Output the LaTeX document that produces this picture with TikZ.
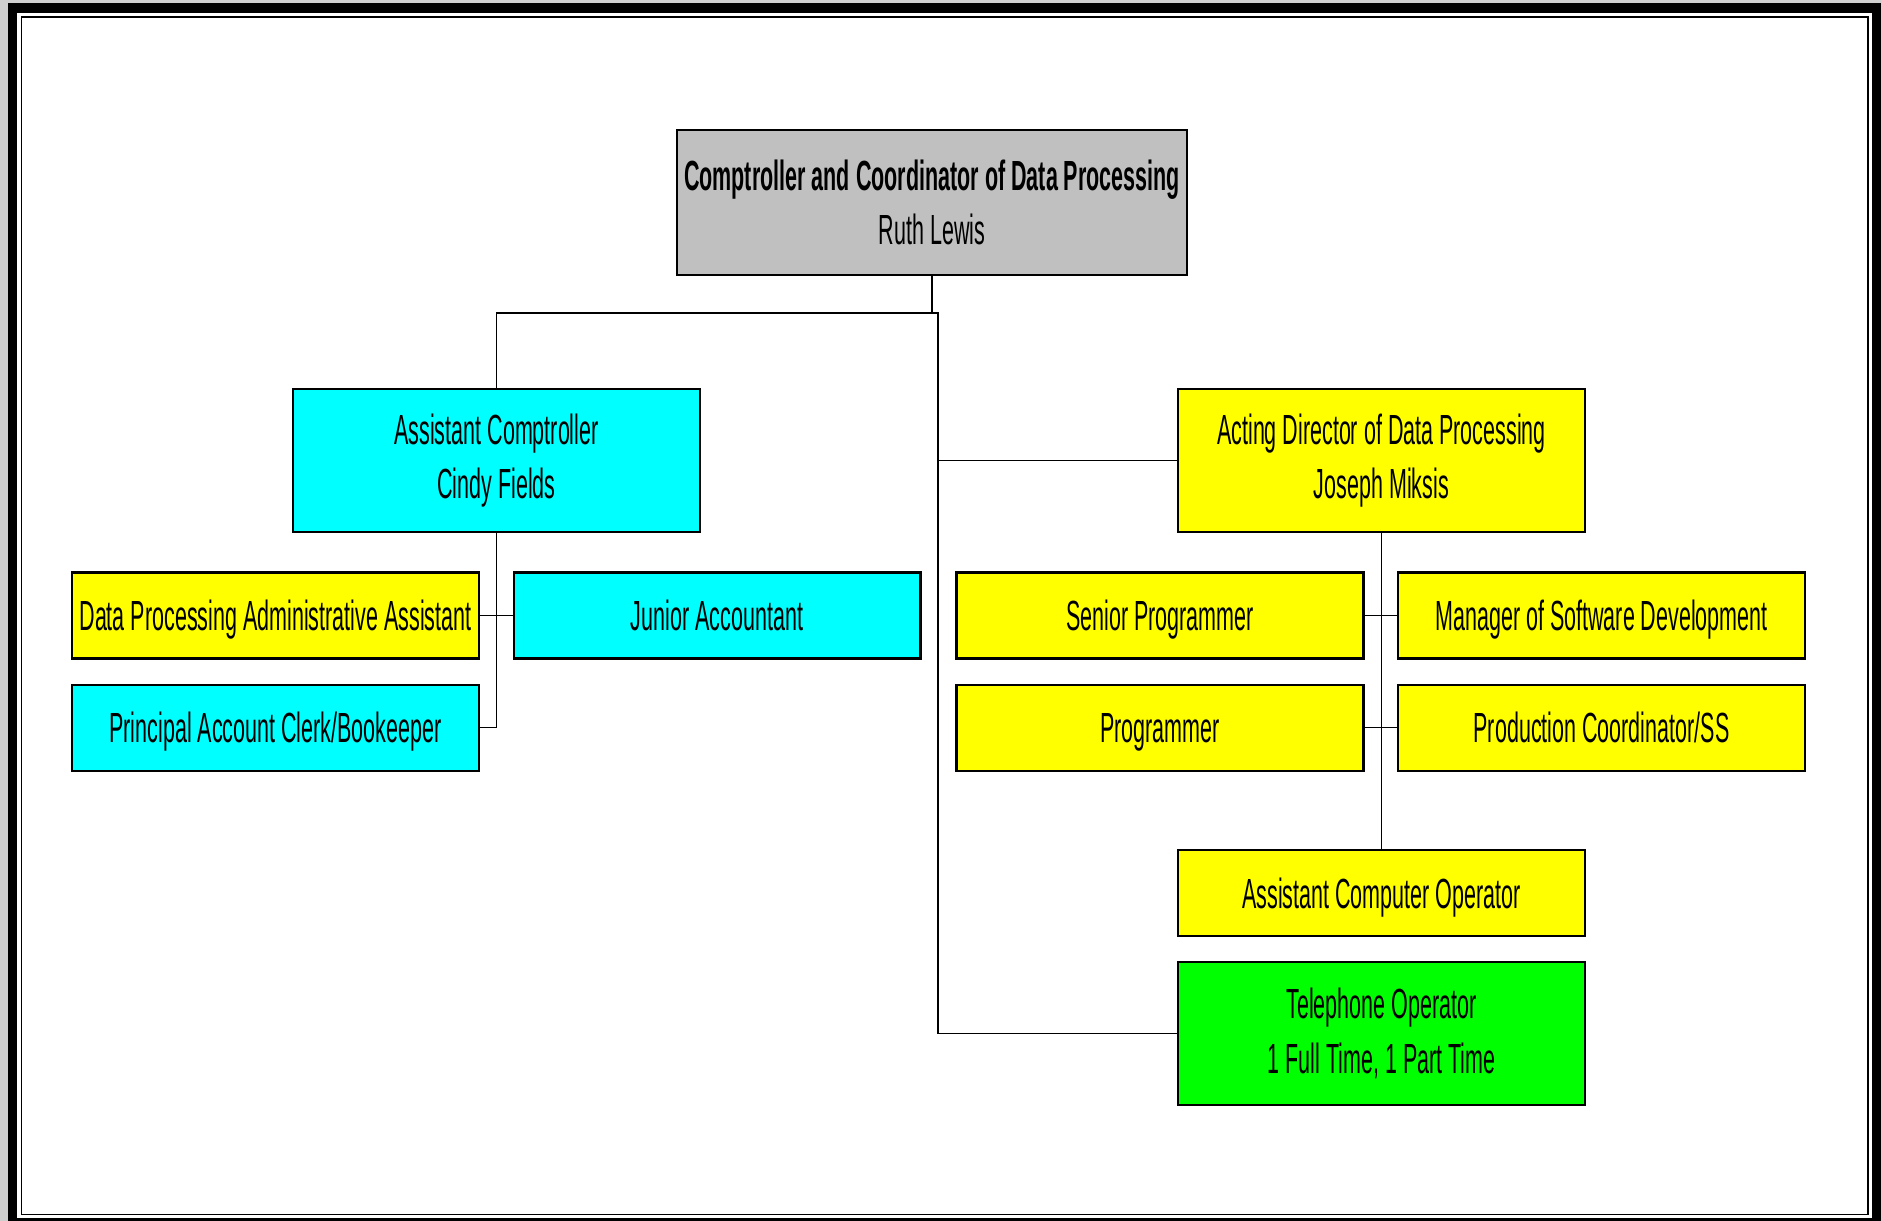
\documentclass[tikz,border=0pt]{standalone}
\usepackage{fontspec}
\setmainfont{Liberation Sans}[FakeStretch=0.51]
\usetikzlibrary{positioning}

\definecolor{greybox}{HTML}{C0C0C0}
\definecolor{cyanbox}{HTML}{00FFFF}
\definecolor{yellowbox}{HTML}{FFFF00}
\definecolor{greenbox}{HTML}{00FF00}

\tikzset{
  box/.style={draw, line width=1.2pt, inner xsep=2pt, minimum width=8.14cm, align=center, font=\fontsize{24}{31}\selectfont},
  smallbox/.style={box, minimum height=1.72cm, text height=17.2pt, text depth=0pt},
  bigbox/.style={box, minimum height=2.86cm},
  link/.style={line width=1pt}
}

\begin{document}
\begin{tikzpicture}[x=0.02cm, y=-0.02cm]

\useasboundingbox (0,0) rectangle (1881,1221);

% frame
\fill[black!19] (0,0) rectangle (1881,1221);
\fill[black] (8,3) rectangle (1881,1221);
\fill[white] (17,12.5) rectangle (1872,1218);
\draw[line width=0.8pt] (21.5,17) rectangle (1868,1214.5);

\node[box, fill=greybox, minimum width=10.2cm, minimum height=2.9cm] (top) at (932,202.5) {\textbf{Comptroller and Coordinator of Data Processing}\\Ruth Lewis};

\node[bigbox, fill=cyanbox] (asst) at (496.5,460.5) {Assistant Comptroller\\Cindy Fields};
\node[bigbox, fill=yellowbox] (dir) at (1381.5,460.5) {Acting Director of Data Processing\\Joseph Miksis};

\node[smallbox, fill=yellowbox] (dpaa) at (275.5,615.5) {Data Processing Administrative Assistant};
\node[smallbox, fill=cyanbox, right=0.65cm of dpaa] (jr) {Junior Accountant};
\node[smallbox, fill=cyanbox, below=0.48cm of dpaa] (pac) {Principal Account Clerk/Bookeeper};

\node[smallbox, fill=yellowbox] (senior) at (1160,615.5) {Senior Programmer};
\node[smallbox, fill=yellowbox, right=0.65cm of senior] (mgr) {Manager of Software Development};
\node[smallbox, fill=yellowbox, below=0.48cm of senior] (prog) {Programmer};
\node[smallbox, fill=yellowbox, below=0.48cm of mgr] (prod) {Production Coordinator/SS};

\node[smallbox, fill=yellowbox] (aco) at (1381.5,893) {Assistant Computer Operator};
\node[bigbox, fill=greenbox, below=0.48cm of aco] (tel) {Telephone Operator\\1 Full Time, 1 Part Time};

\coordinate (trunk) at (938,313);

\draw[link] (top.south) -- (top.south |- trunk);
\draw[link] (asst.north) |- (trunk) -- (trunk |- tel.west) -- (tel.west);
\draw[link] (dir.west) -- (dir.west -| trunk);

\draw[link] (asst.south) -- (asst.south |- pac.east) -- (pac.east);
\draw[link] (dpaa.east) -- (jr.west);

\draw[link] (dir.south) -- (aco.north);
\draw[link] (senior.east) -- (mgr.west);
\draw[link] (prog.east) -- (prod.west);

\end{tikzpicture}
\end{document}
